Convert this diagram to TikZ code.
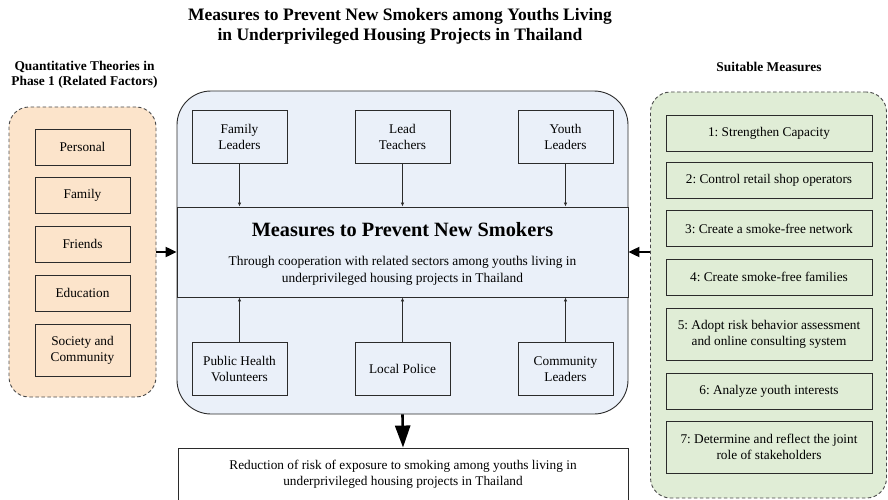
\documentclass[tikz,border=0pt]{standalone}
\usepackage{fontspec}
\setmainfont{Liberation Serif}
\frenchspacing
\usetikzlibrary{arrows.meta,positioning}
\definecolor{ink}{HTML}{2B2B2B}
\definecolor{muted}{HTML}{4A4A4A}
\definecolor{paperpeach}{HTML}{FCE4CB}
\definecolor{paperblue}{HTML}{EAF0F9}
\definecolor{papergreen}{HTML}{E0EDD6}
\tikzset{
  headline/.style={font=\fontsize{17.5}{19.5}\selectfont\bfseries,align=center},
  sidehead/.style={font=\fontsize{13.4}{15.5}\selectfont\bfseries,align=center},
  dashpanel/.style={draw=muted,dashed,dash pattern=on 3.5pt off 2.5pt,line width=0.9pt,rounded corners=20pt},
  hubpanel/.style={draw=ink,line width=0.9pt,fill=paperblue,rounded corners=34pt},
  cell/.style={draw=ink,line width=0.9pt,align=center,font=\fontsize{13.3}{16}\selectfont,inner sep=2pt},
  factor/.style={cell,fill=paperpeach,minimum width=95pt},
  measure/.style={cell,fill=papergreen,minimum width=206pt},
  actor/.style={cell,fill=paperblue,minimum width=95pt,minimum height=53pt},
  feed/.style={-{Latex[length=4pt,width=3.5pt]},line width=0.9pt,draw=ink},
  bigflow/.style={-{Triangle[length=11pt,width=10pt]},line width=2.2pt,draw=black},
  hugeflow/.style={-{Triangle[length=22pt,width=15pt]},line width=2.6pt,draw=black}
}

\begin{document}
\begin{tikzpicture}[x=1pt,y=-1pt]
\useasboundingbox (0,0) rectangle (888,500);

% headings
\node[headline] (title) at (400,26.5) {Measures to Prevent New Smokers among Youths Living\\in Underprivileged Housing Projects in Thailand};
\node[sidehead] (lefthead) at (84.5,75) {Quantitative Theories in\\Phase 1 (Related Factors)};
\node[sidehead] (righthead) at (769,67) {Suitable Measures};

% side panels
\node[dashpanel,fill=paperpeach,minimum width=147pt,minimum height=290pt] (factors) at (82.5,252) {};
\node[dashpanel,fill=papergreen,minimum width=236pt,minimum height=406pt] (measures) at (768.5,295) {};
\foreach \i/\y/\h/\txt in {1/147/36/Personal,2/195.5/36/Family,3/244/36/Friends,4/293/36/Education,5/350/52/{Society and\\Community}}{
  \node[factor,minimum height=\h pt] (f\i) at (82.5,\y) {\txt};
}
\foreach \i/\y/\h/\txt in {1/133/36/{1: Strengthen Capacity},2/180/36/{2: Control retail shop operators},
  3/228.5/36/{3: Create a smoke-free network},4/277/36/{4: Create smoke-free families},
  5/334/52/{5: Adopt risk behavior assessment\\and online consulting system},6/391/36/{6: Analyze youth interests},
  7/447/52/{7: Determine and reflect the joint\\role of stakeholders}}{
  \node[measure,minimum height=\h pt] (m\i) at (769,\y) {\txt};
}

% central panel
\node[hubpanel,minimum width=451pt,minimum height=323pt] (hub) at (402.5,252.5) {};
\node[cell,fill=paperblue,minimum width=451pt,minimum height=90pt] (core) at (402.5,252) {};
\node[font=\fontsize{20.3}{22}\selectfont\bfseries] (coretitle) at (402.5,230) {Measures to Prevent New Smokers};
\node[font=\fontsize{13.4}{17}\selectfont,align=center] (coretext) at (402.5,271) {Through cooperation with related sectors among youths living in\\underprivileged housing projects in Thailand};

\foreach \i/\x/\txt in {1/239.5/{Family\\Leaders},2/402.5/{Lead\\Teachers},3/565.5/{Youth\\Leaders}}{
  \node[actor] (top\i) at (\x,136.5) {\txt};
  \draw[feed] (top\i.south) -- (top\i.south |- core.north);
}
\foreach \i/\x/\txt in {1/239.5/{Public Health\\Volunteers},2/402.5/{Local Police},3/565.5/{Community\\Leaders}}{
  \node[actor] (bot\i) at (\x,369) {\txt};
  \draw[feed] (bot\i.north) -- (bot\i.north |- core.south);
}

% outcome
\node[cell,fill=white,minimum width=450pt,minimum height=52pt] (result) at (403,474) {Reduction of risk of exposure to smoking among youths living in\\underprivileged housing projects in Thailand};

\draw[bigflow] (factors.east |- core.west) -- (core.west);
\draw[bigflow] (measures.west |- core.east) -- (core.east);
\draw[hugeflow] (hub.south) -- (result.north);
\end{tikzpicture}
\end{document}
